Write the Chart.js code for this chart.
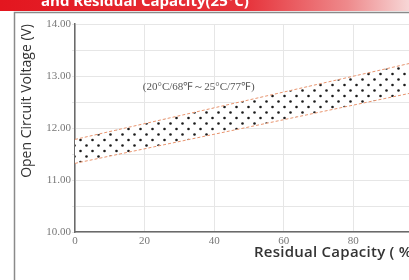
<!DOCTYPE html>
<html>
<head>
<meta charset="utf-8">
<script src="https://cdn.jsdelivr.net/npm/chart.js@4/dist/chart.umd.min.js"></script>
<style>
  html, body { margin: 0; padding: 0; background: #fff; }
  #box { width: 409px; height: 280px; }
</style>
</head>
<body>
<div id="box"><canvas id="myChart"></canvas></div>
<script>
// 잔존용량 (%)
var capacity = [0, 100];
// 밴드 위/아래 경계 전압 (V)
var upperVolt = [11.78, 13.30];
var lowerVolt = [11.32, 12.72];
// 축 눈금
var yTicks = [10, 11, 12, 13, 14];
var xTicks = [0, 20, 40, 60, 80];
var headerText = 'and Residual Capacity(25°C)';
var noteText = '(20°C/68℉～25°C/77℉)';

function toPoints(xs, ys) {
    var out = [];
    for (var i = 0; i < xs.length; i++) out.push({ x: xs[i], y: ys[i] });
    return out;
}

// 점무늬 패턴
function dotPattern(ctx) {
    var c = document.createElement('canvas');
    c.width = 12; c.height = 11;
    var p = c.getContext('2d');
    p.fillStyle = '#fff';
    p.fillRect(0, 0, 12, 11);
    p.fillStyle = '#1c1c1c';
    p.beginPath(); p.arc(2.5, 2.5, 1.3, 0, Math.PI * 2); p.fill();
    p.beginPath(); p.arc(8.5, 8, 1.3, 0, Math.PI * 2); p.fill();
    return ctx.createPattern(c, 'repeat');
}

// 헤더, 테두리, 주석 그리기
var decor = {
    id: 'decor',
    beforeDraw: function (chart) {
        var ctx = chart.ctx;
        ctx.save();
        var g = ctx.createLinearGradient(0, 0, 409, 0);
        g.addColorStop(0, '#e3161f');
        g.addColorStop(0.6, '#e6323a');
        g.addColorStop(0.85, '#ee8a8c');
        g.addColorStop(1, '#f7d6d6');
        ctx.fillStyle = g;
        ctx.fillRect(0, 0, 409, 11);
        ctx.fillStyle = '#fff';
        ctx.font = 'bold 15px "Open Sans"';
        ctx.textBaseline = 'alphabetic';
        ctx.fillText(headerText, 41, 6);
        ctx.strokeStyle = '#8a8a8a';
        ctx.lineWidth = 1.5;
        ctx.beginPath();
        ctx.moveTo(14.5, 280); ctx.lineTo(14.5, 12.5); ctx.lineTo(409, 12.5);
        ctx.stroke();
        ctx.restore();
    },
    afterDraw: function (chart) {
        var ctx = chart.ctx;
        var xs = chart.scales.x, ys = chart.scales.y;
        ctx.save();
        ctx.fillStyle = '#555';
        ctx.font = '11px "Liberation Serif"';
        ctx.textBaseline = 'middle';
        ctx.fillText(noteText, xs.getPixelForValue(19.5), ys.getPixelForValue(12.79));
        ctx.fillStyle = '#333';
        ctx.font = '600 15px "Open Sans"';
        ctx.letterSpacing = '0.25px';
        ctx.fillText('Residual Capacity ( % )', 254, 253);
        ctx.restore();
    }
};

var chartArea = document.getElementById('myChart').getContext('2d');
var myChart = new Chart(chartArea, {
    type: 'line',
    data: {
        datasets: [{
            label: 'upper',
            data: toPoints(capacity, upperVolt),
            borderColor: '#e8946e',
            borderWidth: 1,
            borderDash: [3, 2],
            pointRadius: 0,
            fill: false
        }, {
            label: 'lower',
            data: toPoints(capacity, lowerVolt),
            borderColor: '#e8946e',
            borderWidth: 1,
            borderDash: [3, 2],
            pointRadius: 0,
            backgroundColor: dotPattern(chartArea),
            fill: '-1'
        }]
    },
    options: {
        responsive: true,
        maintainAspectRatio: false,
        animation: false,
        layout: { padding: { left: 15, top: 24, right: 0, bottom: 0 } },
        plugins: { legend: { display: false }, tooltip: { enabled: false } },
        scales: {
            x: {
                type: 'linear',
                min: 0,
                max: 96,
                afterFit: function (s) { s.height = 48; },
                afterBuildTicks: function (s) {
                    s.ticks = xTicks.map(function (v) { return { value: v }; });
                },
                grid: { color: '#e6e6e6', drawTicks: false },
                border: { color: '#6a6a6a', width: 1.5 },
                ticks: { color: '#777', padding: 3, font: { family: 'Liberation Serif', size: 11 } }
            },
            y: {
                min: 10,
                max: 14,
                afterFit: function (s) { s.width = 60; },
                afterBuildTicks: function (s) {
                    var t = [];
                    for (var v = 10; v <= 14; v += 0.5) t.push({ value: v });
                    s.ticks = t;
                },
                grid: { color: '#e6e6e6', tickLength: 3 },
                border: { color: '#6a6a6a', width: 1.5 },
                ticks: {
                    color: '#777',
                    padding: 1,
                    font: { family: 'Liberation Serif', size: 11 },
                    callback: function (v) {
                        return yTicks.indexOf(v) >= 0 ? v.toFixed(2) : '';
                    }
                },
                title: {
                    display: true,
                    text: 'Open Circuit Voltage (V)',
                    align: 'end',
                    color: '#333',
                    font: { family: 'Open Sans', size: 14 },
                    padding: { top: 4, bottom: 0 }
                }
            }
        }
    },
    plugins: [decor]
});
</script>
</body>
</html>
